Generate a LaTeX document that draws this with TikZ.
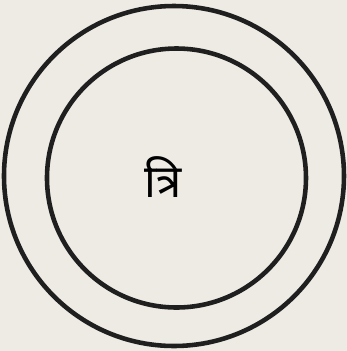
\documentclass[tikz,border=0pt]{standalone}
\usepackage{fontspec}
\newfontfamily\devfont[Script=Devanagari]{Noto Sans}
\definecolor{paper}{RGB}{238,235,228}
\usetikzlibrary{calc}

\begin{document}
\begin{tikzpicture}[ring/.style={line width=1.3pt,black!88}]
  \fill[paper] (0,0) rectangle (3.47,3.51);
  \useasboundingbox (0,0) rectangle (3.47,3.51);
  \coordinate (O) at (1.74,1.75);
  \coordinate (I) at (1.765,1.73);
  \draw[ring] (O) circle (1.70);
  \draw[ring] (I) circle (1.295);
  \node (tri) at (1.63,1.74) {\devfont\bfseries\fontsize{13}{15}\selectfont त्रि};
\end{tikzpicture}
\end{document}
